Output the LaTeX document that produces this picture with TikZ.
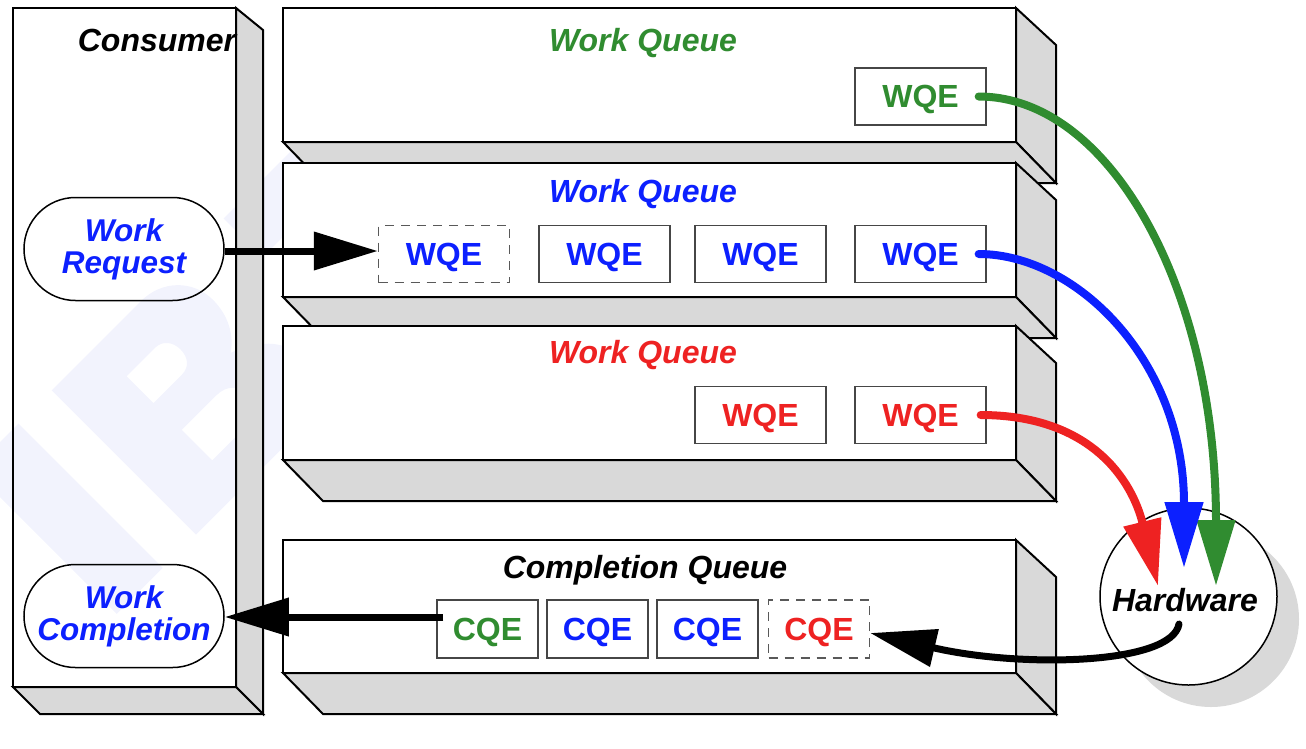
\documentclass[tikz,border=0pt]{standalone}
\usepackage{fontspec}
\setmainfont{Liberation Sans}
\usetikzlibrary{arrows.meta,shapes.misc,calc}
\definecolor{qgreen}{RGB}{48,140,48}
\definecolor{qblue}{RGB}{12,32,255}
\definecolor{qred}{RGB}{238,34,34}
\definecolor{facegray}{RGB}{217,217,217}
\definecolor{wmarkcol}{RGB}{242,243,253}
\definecolor{elemline}{RGB}{70,70,70}
\newcommand\qbox[8]{% #1 front fill, #2 x1, #3 y1, #4 x2, #5 y2, #6 dx, #7 top dy, #8 bottom dy
  \draw[face] (#4,#3) -- (#4+#6,#3+#7) -- (#4+#6,#5+#8) -- (#4,#5) -- cycle;
  \draw[face] (#2,#5) -- (#4,#5) -- (#4+#6,#5+#8) -- (#2+#6,#5+#8) -- cycle;
  \draw[frontface,fill=#1] (#2,#3) rectangle (#4,#5);
}
\tikzset{
  face/.style={draw=black, line width=2pt, fill=facegray, line join=miter},
  frontface/.style={draw=black, line width=2pt},
  elem/.style={draw=elemline, line width=1.3pt, fill=white, minimum width=131pt,
    minimum height=57pt, inner sep=0pt, text depth=0pt, font=\fontsize{32}{34}\selectfont\bfseries},
  celem/.style={elem, minimum width=101pt, minimum height=58pt},
  ghost/.style={dash pattern=on 9pt off 7pt, draw=elemline!90},
  qtitle/.style={anchor=base, inner sep=0pt, font=\fontsize{32}{34}\selectfont\bfseries\itshape},
  stadium/.style={rounded rectangle, draw=black, line width=1.5pt, minimum width=200pt,
    minimum height=103pt, inner sep=0pt, align=center, text=qblue,
    font=\fontsize{31.5}{32}\selectfont\bfseries\itshape},
  flow/.style={line width=8pt, line cap=round, -{Triangle[length=66pt,width=37pt]}},
  flowblack/.style={line width=7pt, -{Triangle[length=64pt,width=37pt]}},
}
\begin{document}
\begin{tikzpicture}[x=1pt,y=-1pt]
\useasboundingbox (0,0) rectangle (1306,748);
% faint watermark letters, drawn in a frame turned by 45 degrees
\begin{scope}[shift={(-27.5,469.5)}, rotate=45]
  \fill[wmarkcol] (0,0) rectangle (65,204);
  \fill[wmarkcol, even odd rule]
    (112,0) -- (238,0) .. controls (268,0) and (290,22) .. (290,50)
      .. controls (290,72) and (280,90) .. (265,100)
      .. controls (292,110) and (312,128) .. (312,152)
      .. controls (312,182) and (288,204) .. (255,204) -- (112,204) -- cycle
    (175,43) -- (215,43) .. controls (226,43) and (232,52) .. (232,62)
      .. controls (232,73) and (226,81) .. (215,81) -- (175,81) -- cycle
    (176,120) -- (225,120) .. controls (240,120) and (248,130) .. (248,141.5)
      .. controls (248,153) and (240,163) .. (225,163) -- (176,163) -- cycle;
  \fill[wmarkcol] (355,0) rectangle (655,55);
  \fill[wmarkcol] (470,0) rectangle (540,204);
\end{scope}
% consumer box
\qbox{none}{13}{8}{236}{687}{27}{22}{27}
\node[qtitle] (cons) at (157,51) {Consumer};
\node[stadium] (wr) at (124,249) {Work\\Request};
\node[stadium] (wc) at (124,616) {Work\\Completion};
% queues
\qbox{white}{283}{8}{1016}{142}{40}{37}{41}
\qbox{white}{283}{163}{1016}{297}{40}{37}{41}
\qbox{white}{283}{326}{1016}{460}{40}{37}{41}
\qbox{white}{283}{540}{1016}{673}{40}{37}{41}
\node[qtitle, text=qgreen] (t1) at (643,51) {Work Queue};
\node[qtitle, text=qblue] (t2) at (643,202) {Work Queue};
\node[qtitle, text=qred] (t3) at (643,363) {Work Queue};
\node[qtitle] (t4) at (645,578) {Completion Queue};
% elements
\node[elem, text=qgreen] (g1) at (920.5,96.5) {WQE};
\node[elem, ghost, text=qblue] (b1) at (444,254) {WQE};
\node[elem, text=qblue] (b2) at (604.5,254) {WQE};
\node[elem, text=qblue] (b3) at (760.5,254) {WQE};
\node[elem, text=qblue] (b4) at (920.5,254) {WQE};
\node[elem, text=qred] (r1) at (760.5,415) {WQE};
\node[elem, text=qred] (r2) at (920.5,415) {WQE};
\node[celem, text=qgreen] (c1) at (487.5,629) {CQE};
\node[celem, text=qblue] (c2) at (597.5,629) {CQE};
\node[celem, text=qblue] (c3) at (707.5,629) {CQE};
\node[celem, ghost, text=qred] (c4) at (819,629) {CQE};
% hardware
\fill[facegray] (1211,619) circle[radius=88pt];
\node[circle, draw=black, line width=1.5pt, fill=white, minimum size=177pt, inner sep=0pt] (hw) at (1188.5,596.5) {};
\node[qtitle] (hwl) at (1185,611) {Hardware};
% connectors
\draw[flowblack] ([yshift=-2pt]wr.east) -- ([yshift=-2pt]wr.east -| b1.west);
\draw[flowblack] ($(c1.west |- wc.east)+(7,1)$) -- ($(wc.east)+(0,1)$);
\draw[flow, qgreen] ([xshift=-8pt]g1.east) .. controls +(130,0) and +(0,-300) .. ($(hw.center)+(27.5,-10.5)$);
\draw[flow, qblue] ([xshift=-8pt]b4.east) .. controls +(97,0) and +(0,-208) .. ($(hw.center)+(-4.5,-28.5)$);
\draw[flow, qred] ([xshift=-6pt]r2.east) .. controls +(110,0) and +(-26,-106) .. ($(hw.center)+(-30.5,-10.5)$);
\draw[flow, black, line width=7pt] ($(hw.center)+(-9.5,27.5)$) .. controls +(-7,41) and +(150,35) .. ([yshift=-4pt]c4.east);
\end{tikzpicture}
\end{document}
